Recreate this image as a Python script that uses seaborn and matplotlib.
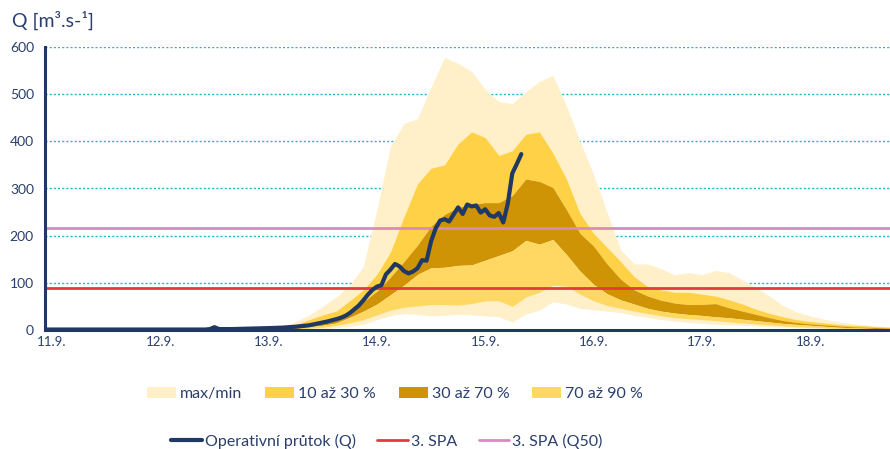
import numpy as np
import pandas as pd
import matplotlib
matplotlib.use("Agg")
import matplotlib.pyplot as plt
from matplotlib.patches import Patch
from matplotlib.lines import Line2D
import seaborn as sns

# ---- data (time in hours from 11.9. 00:00) ----
band_hours = [42, 45, 48, 51, 54, 57, 60, 63, 66, 69, 72, 75, 78, 81, 84, 87, 90, 93,
              96, 99, 102, 105, 108, 111, 114, 117, 120, 123, 126, 129, 132, 135, 138,
              141, 144, 147, 150, 153, 156, 159, 162, 165, 168, 171, 174, 177, 180, 183, 186]

q_max = [0.5, 1, 2, 5, 18, 32, 50, 70, 95, 135, 255, 390, 438, 448, 515, 578, 565, 548,
         510, 484, 480, 505, 527, 540, 475, 400, 330, 250, 170, 140, 140, 130, 117,
         122, 117, 126, 122, 106, 90, 72, 52, 38, 30, 23, 18, 14, 11, 8, 6]
q_10 = [0.3, 0.6, 1, 3, 11, 22, 32, 40, 62, 85, 118, 165, 240, 310, 343, 350, 395, 420,
        408, 370, 380, 415, 420, 375, 320, 247, 205, 175, 145, 113, 92, 85, 80,
        80, 76, 72, 64, 55, 44, 35, 28, 22, 18, 15, 12, 10, 9, 7, 6]
q_30 = [0.2, 0.4, 0.7, 2, 6, 13, 20, 26, 40, 60, 82, 112, 145, 180, 220, 245, 260, 266,
        270, 270, 285, 320, 315, 302, 255, 205, 178, 140, 108, 85, 72, 63, 57,
        54, 54, 56, 47, 40, 33, 26, 20, 16, 13, 11, 9, 7, 6, 5, 4]
q_70 = [0.1, 0.2, 0.4, 1, 3, 7, 10, 15, 27, 40, 55, 75, 95, 118, 132, 133, 137, 138,
        148, 158, 168, 190, 182, 192, 160, 125, 97, 77, 64, 55, 46, 40, 36,
        33, 31, 28, 26, 23, 20, 17, 14, 12, 10, 8, 6, 5, 4, 3, 2.5]
q_90 = [0, 0.1, 0.2, 0.5, 1.5, 4, 6, 10, 15, 22, 32, 42, 48, 51, 54, 54, 53, 56,
        62, 62, 50, 70, 80, 95, 93, 76, 62, 52, 46, 40, 35, 30, 26,
        24, 22, 20, 17, 15, 13, 11, 9, 7, 6, 5, 4, 3, 2.5, 2, 1.5]
q_min = [0, 0, 0, 0.2, 0.5, 1.5, 3, 5, 8, 12, 22, 30, 35, 33, 30, 31, 33, 32,
         30, 28, 17, 34, 42, 60, 55, 46, 43, 40, 37, 31, 27, 22, 19,
         16, 14, 12, 11, 10, 9, 7, 6, 5, 4, 3.5, 3, 2.5, 2, 1.5, 1]

obs_hours = [-2, 12, 24, 34, 35, 36, 37, 40, 44, 48, 51, 54, 55, 57, 59, 61, 63, 64, 65,
             66, 67, 68, 69, 70, 71, 72, 73, 74, 75, 76, 77, 78, 79, 80, 81, 82, 83,
             84, 85, 86, 87, 88, 89, 90, 91, 92, 93, 94, 95, 96, 97, 98, 99, 100,
             101, 102, 103, 104]
obs_flow = [1, 1, 1, 1, 2, 6, 2, 2, 3, 4, 5, 7, 8, 10, 14, 18, 23, 26, 30,
            36, 44, 52, 63, 75, 85, 92, 95, 118, 128, 140, 135, 125, 120, 124, 131, 148, 147,
            188, 215, 232, 235, 230, 245, 260, 246, 266, 262, 264, 249, 256, 243, 240, 248, 228,
            268, 332, 352, 373]

spa3 = 90
spa3_q50 = 216

tick_hours = [0, 24, 48, 72, 96, 120, 144, 168]
tick_labels = ["11.9.", "12.9.", "13.9.", "14.9.", "15.9.", "16.9.", "17.9.", "18.9."]
y_ticks = [0, 100, 200, 300, 400, 500, 600]

# ---- style ----
sns.set_theme(style="white")
plt.rcParams["font.family"] = ["Lato", "DejaVu Sans"]

NAVY = "#203864"
TEXT = "#2a3f6e"
C_MAXMIN = "#FFF0C9"
C_10_30 = "#FFD146"
C_30_70 = "#CF9406"
C_70_90 = "#FFD864"
C_RED = "#E8383D"
C_PINK = "#D98BC0"
C_GRID = "#22B5CC"

fig = plt.figure(figsize=(8.9, 4.49), dpi=100)
ax = fig.add_axes([45 / 890, 119 / 449, 845 / 890, 283 / 449])

bands = pd.DataFrame({"h": band_hours, "max": q_max, "q10": q_10, "q30": q_30,
                      "q70": q_70, "q90": q_90, "min": q_min})
obs = pd.DataFrame({"h": obs_hours, "Q": obs_flow})

# dotted horizontal grid behind the bands
for yv in y_ticks[1:]:
    ax.axhline(yv, color=C_GRID, lw=1.0, ls=(0, (1.5, 1.5)), zorder=0)

ax.fill_between(bands["h"], bands["min"], bands["max"], color=C_MAXMIN, lw=0, zorder=1)
ax.fill_between(bands["h"], bands["q30"], bands["q10"], color=C_10_30, lw=0, zorder=2)
ax.fill_between(bands["h"], bands["q70"], bands["q30"], color=C_30_70, lw=0, zorder=2)
ax.fill_between(bands["h"], bands["q90"], bands["q70"], color=C_70_90, lw=0, zorder=2)

ax.axhline(spa3, color=C_RED, lw=2.0, zorder=3)
ax.axhline(spa3_q50, color=C_PINK, lw=2.0, zorder=3)

sns.lineplot(data=obs, x="h", y="Q", ax=ax, color=NAVY, lw=3.0, zorder=4,
             solid_joinstyle="round", solid_capstyle="round")

ax.set_xlim(-1.55, 185.7)
ax.set_ylim(0, 600)
ax.set_xticks(tick_hours)
ax.set_xticklabels(tick_labels)
ax.set_yticks(y_ticks)
ax.set_xlabel("")
ax.set_ylabel("")
ax.tick_params(axis="both", length=0, colors=TEXT, labelsize=10)
ax.tick_params(axis="x", pad=4, labelsize=9.5)
ax.tick_params(axis="y", pad=8)
ax.grid(False)
for s in ["top", "right"]:
    ax.spines[s].set_visible(False)
for s in ["left", "bottom"]:
    ax.spines[s].set_color(NAVY)
    ax.spines[s].set_linewidth(2.2)
    ax.spines[s].set_zorder(5)

fig.text(12 / 890, 1 - 20 / 449, "Q [m³.s-¹]", color=TEXT, fontsize=14,
         va="center", ha="left")

h1 = [Patch(facecolor=C_MAXMIN, edgecolor="none", label="max/min"),
      Patch(facecolor=C_10_30, edgecolor="none", label="10 až 30 %"),
      Patch(facecolor=C_30_70, edgecolor="none", label="30 až 70 %"),
      Patch(facecolor=C_70_90, edgecolor="none", label="70 až 90 %")]
fig.legend(handles=h1, loc="center", bbox_to_anchor=(395 / 890, 1 - 394 / 449),
           ncol=4, frameon=False, fontsize=11.5, handlelength=1.8,
           handleheight=0.75, handletextpad=0.25, columnspacing=1.45,
           labelcolor=TEXT)
h2 = [Line2D([], [], color=NAVY, lw=3.0, label="Operativní průtok (Q)"),
      Line2D([], [], color=C_RED, lw=2.0, label="3. SPA"),
      Line2D([], [], color=C_PINK, lw=2.0, label="3. SPA (Q50)")]
fig.legend(handles=h2, loc="center", bbox_to_anchor=(387 / 890, 1 - 441 / 449),
           ncol=3, frameon=False, fontsize=11.5, handlelength=1.9,
           handletextpad=0.2, columnspacing=1.35, labelcolor=TEXT)

fig.savefig("out.png", dpi=100)
